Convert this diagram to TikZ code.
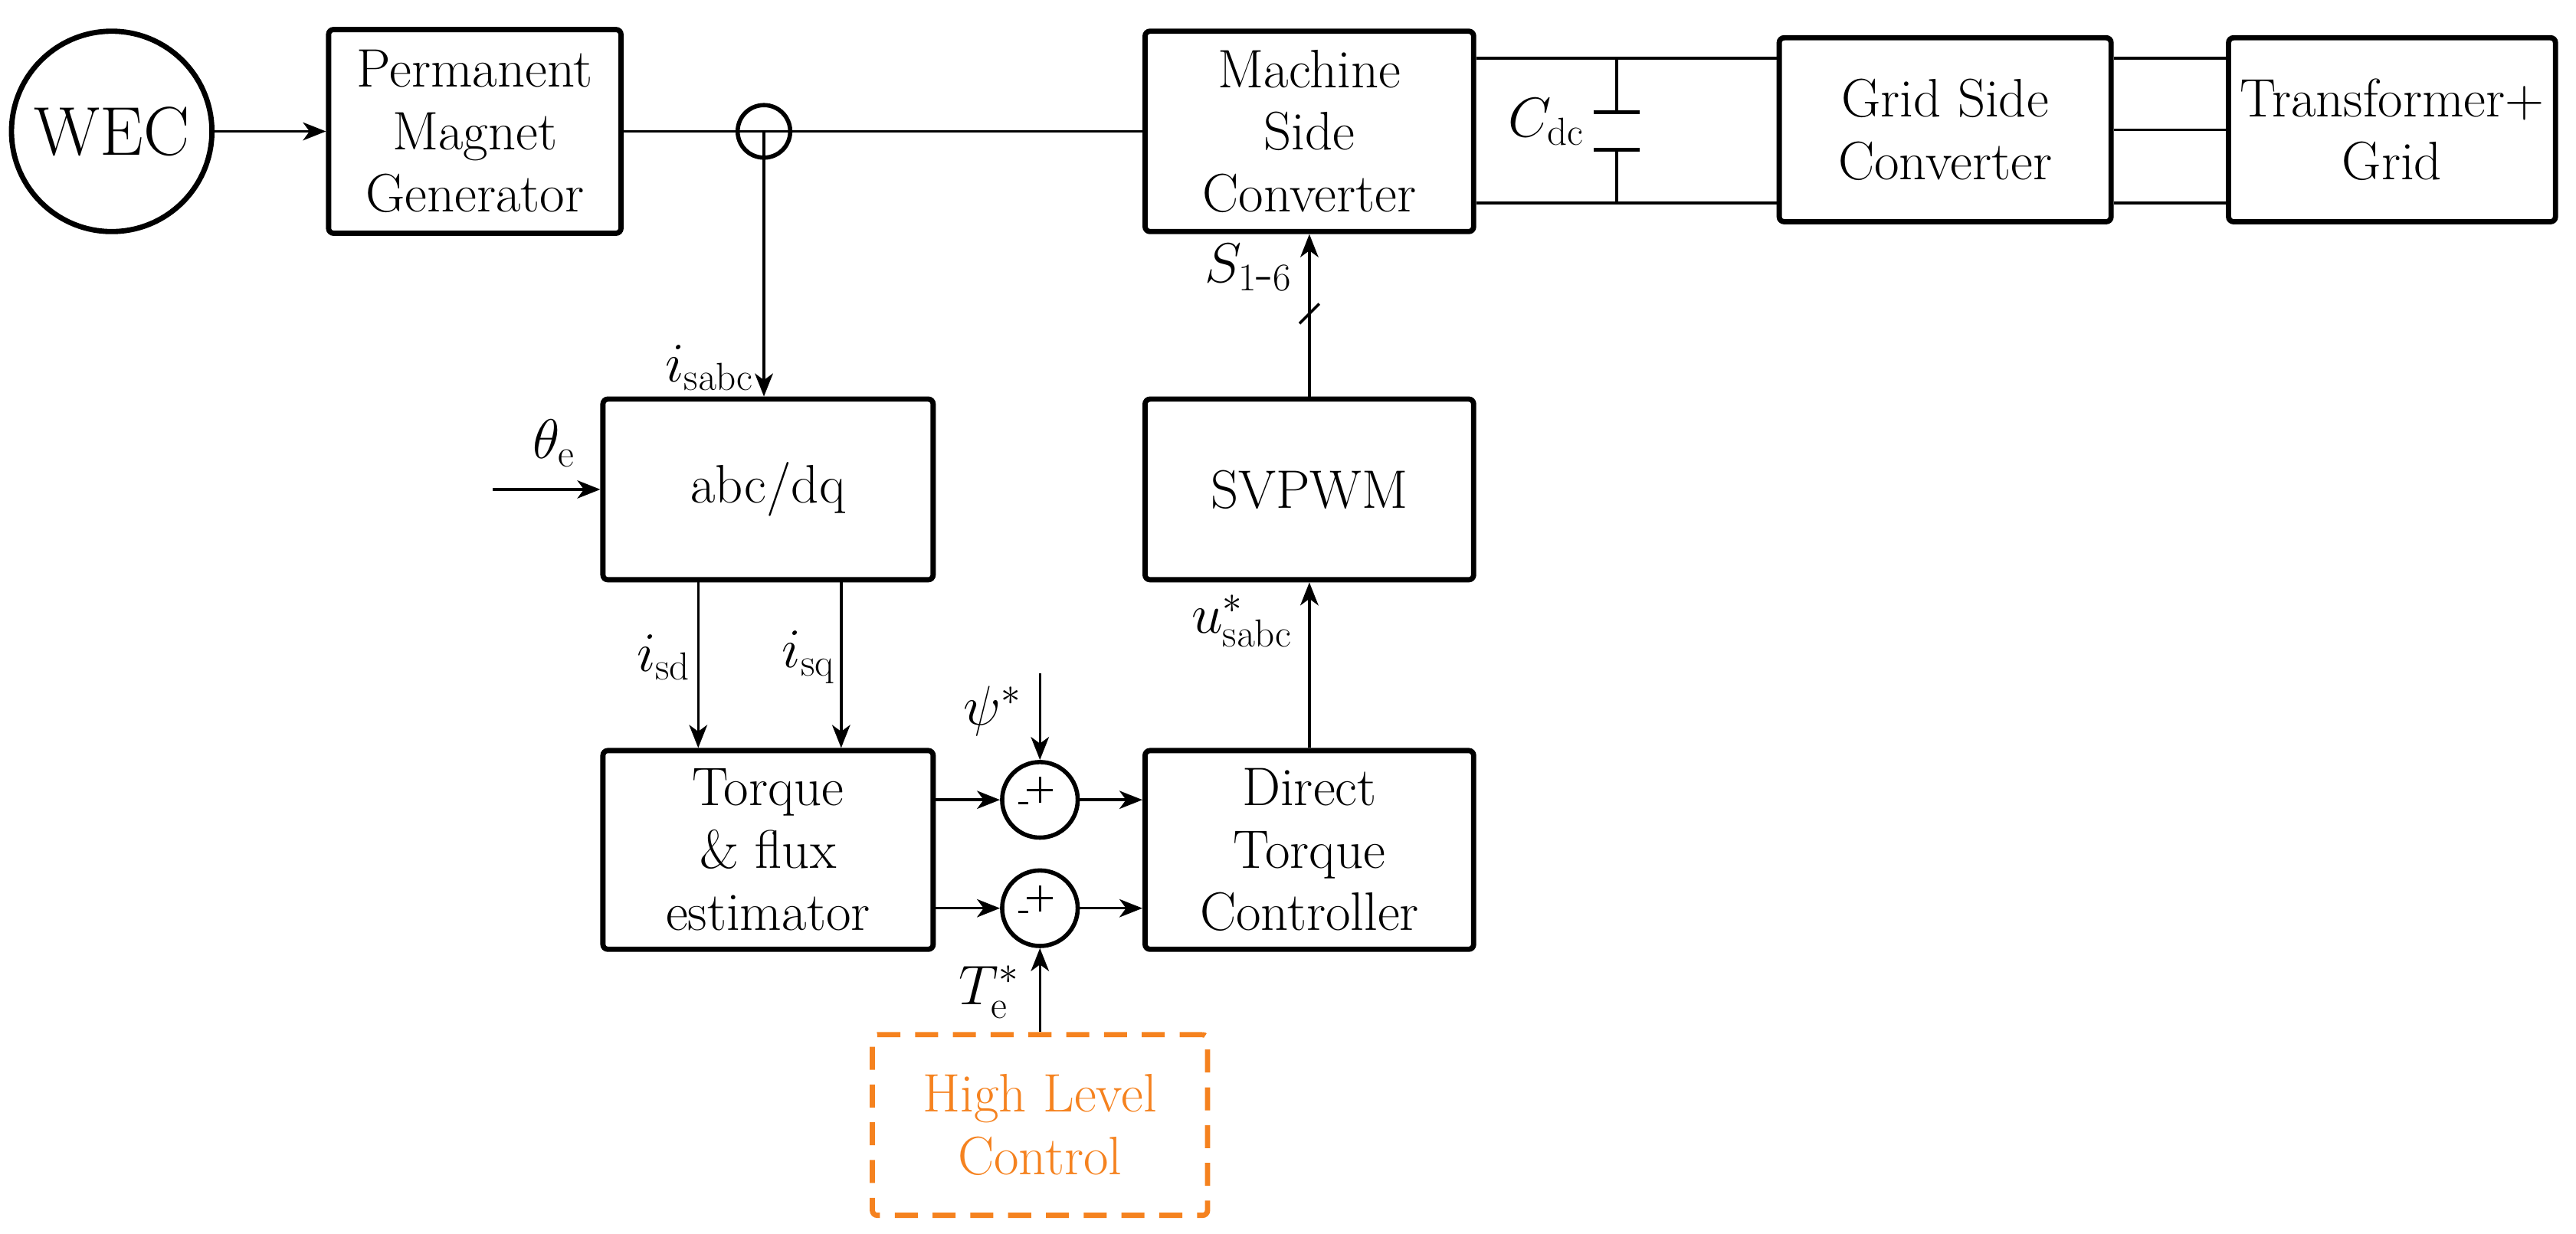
\RequirePackage{fix-cm}
\documentclass[tikz,border=0pt]{standalone}
\usetikzlibrary{arrows.meta}
\definecolor{org}{HTML}{F5821F}
\begin{document}
\begin{tikzpicture}[x=1pt,y=-1pt,
  box/.style={draw,line width=3.2pt,rounded corners=3pt,inner sep=0pt,align=center,font=\fontsize{33}{38}\selectfont},
  con/.style={line width=1.6pt},
  arr/.style={con,-{Stealth[length=14pt,width=11pt,inset=4pt]}},
  lab/.style={font=\fontsize{34}{38}\selectfont,inner sep=0pt}]
\useasboundingbox (0,0) rectangle (1568,751);
\node[box,circle,minimum size=122pt,font=\fontsize{42}{46}\selectfont] (wec) at (68,80) {WEC};
\node[box,minimum width=178pt,minimum height=124pt] (pmg) at (289,80) {Permanent\\Magnet\\Generator};
\node[draw,circle,line width=2.6pt,minimum size=32pt,inner sep=0pt] (sens) at (465,80) {};
\node[box,minimum width=200pt,minimum height=122pt] (msc) at (797,80) {Machine\\Side\\Converter};
\node[box,minimum width=202pt,minimum height=112pt] (gsc) at (1184,79) {Grid Side\\Converter};
\node[box,minimum width=199pt,minimum height=112pt] (tg) at (1456,79) {Transformer+\\Grid};
\node[box,minimum width=201pt,minimum height=110pt] (abc) at (467.5,298) {abc/dq};
\node[box,minimum width=201pt,minimum height=121pt] (est) at (467.5,517.5) {Torque\\\&\ flux\\estimator};
\node[box,minimum width=200pt,minimum height=110pt] (svp) at (797,298) {SVPWM};
\node[box,minimum width=200pt,minimum height=121pt] (dtc) at (797,517.5) {Direct\\Torque\\Controller};
\node[box,draw=org,text=org,dashed,dash pattern=on 14pt off 9pt,minimum width=204pt,minimum height=110pt] (hlc) at (633,685) {High Level\\Control};
\node[draw,circle,line width=2.6pt,minimum size=46pt,inner sep=0pt] (s1) at (633,487) {};
\node[draw,circle,line width=2.6pt,minimum size=46pt,inner sep=0pt] (s2) at (633,553) {};
\foreach \s in {s1,s2}{
  \draw[line width=1.4pt] ([xshift=-13pt,yshift=-2pt]\s.center) -- ([xshift=-7pt,yshift=-2pt]\s.center);
  \draw[line width=1.4pt] ([xshift=-8pt,yshift=6pt]\s.center) -- ([xshift=8pt,yshift=6pt]\s.center)
                          ([yshift=-2pt]\s.center) -- ([yshift=14pt]\s.center);
}
% top power path
\draw[arr] (wec) -- (pmg);
\draw[con] (pmg.east) -- (sens.west);
\draw[con] (sens.west) -- (sens.east) -- (msc.west);
\draw[arr] (sens.center) -- (abc.north -| sens.center);
\node[lab,anchor=south east] at (459,238) {$i_{\mathrm{sabc}}$};
% DC link
\coordinate (ct) at (984,35.5);
\coordinate (cb) at (984,123.5);
\draw[con] (msc.east |- ct) -- (gsc.west |- ct);
\draw[con] (msc.east |- cb) -- (gsc.west |- cb);
\draw[con] (ct) -- (984,68.5) (cb) -- (984,91);
\draw[line width=2.4pt] (970,68.5) -- (998,68.5) (970,91) -- (998,91);
\node[lab] at (941,74) {$C_{\mathrm{dc}}$};
\draw[con] (gsc.east |- ct) -- (tg.west |- ct);
\draw[con] (gsc.east) -- (tg.west);
\draw[con] (gsc.east |- cb) -- (tg.west |- cb);
% abc/dq
\coordinate (th) at (300,298);
\draw[arr] (th) -- (abc.west);
\node[lab] at (337,270) {$\theta_{\mathrm{e}}$};
\draw[arr] (425,353) -- (est.north -| 425,0);
\draw[arr] (512,353) -- (est.north -| 512,0);
\node[lab] at (404,400) {$i_{\mathrm{sd}}$};
\node[lab] at (492,400) {$i_{\mathrm{sq}}$};
% sums
\draw[arr] (est.east |- s1) -- (s1.west);
\draw[arr] (est.east |- s2) -- (s2.west);
\draw[arr] (s1.east) -- (dtc.west |- s1);
\draw[arr] (s2.east) -- (dtc.west |- s2);
\coordinate (psi) at (633,410);
\draw[arr] (psi) -- (s1.north);
\node[lab] at (604,433) {$\psi^{*}$};
\draw[arr] (hlc.north -| s2) -- (s2.south);
\node[lab] at (602,604) {$T_{\mathrm{e}}^{*}$};
% DTC -> SVPWM -> MSC
\draw[arr] (dtc.north) -- (svp.south);
\node[lab] at (756,378) {$u_{\mathrm{sabc}}^{*}$};
\draw[arr] (svp.north) -- (msc.south);
\draw[con] (791,197) -- (803,185);
\node[lab] at (760,163) {$S_{\mathrm{1\mbox{-}6}}$};
\end{tikzpicture}
\end{document}
